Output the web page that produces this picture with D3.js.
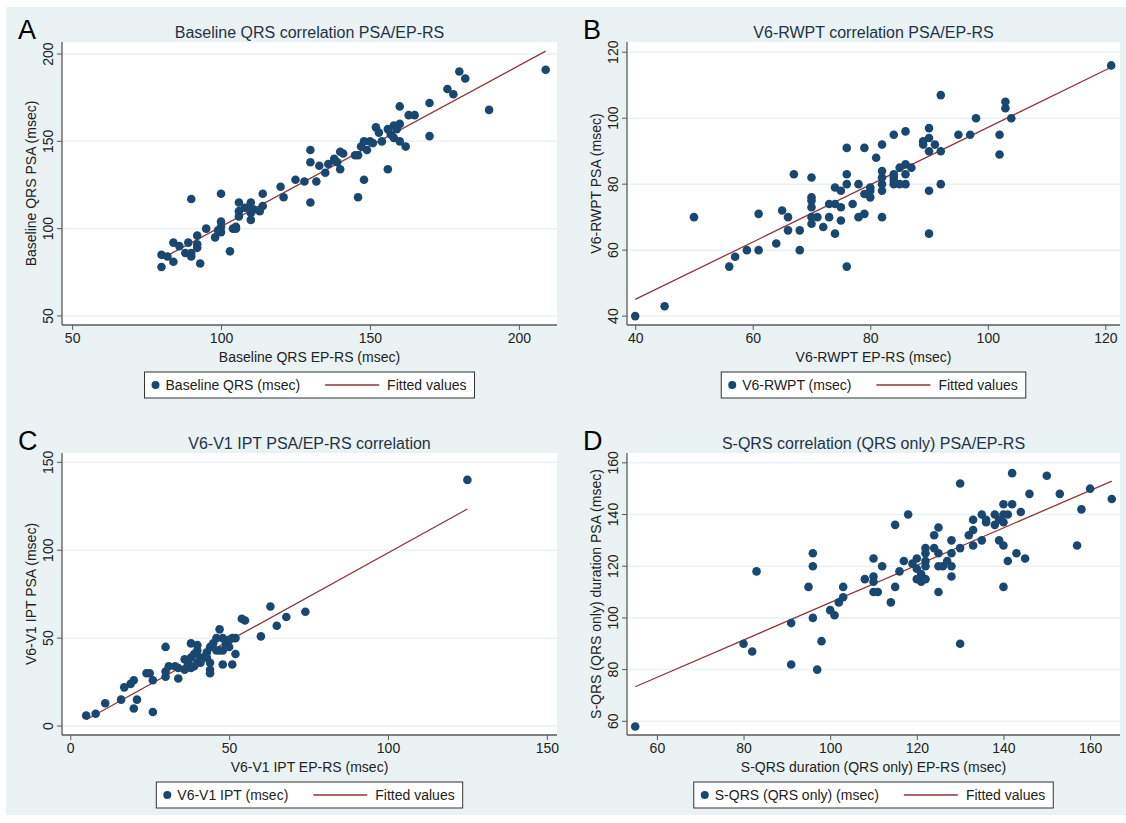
<!DOCTYPE html>
<html>
<head>
<meta charset="utf-8">
<script src="https://cdn.jsdelivr.net/npm/d3@7"></script>
<style>
  body { margin: 0; background: #fff; }
  text { font-family: "Liberation Sans", Arial, sans-serif; }
</style>
</head>
<body>
<div id="chart"></div>
<script>
const BG_COLOR = "#eaf2f3"
const DOT_COLOR = "#1a476f"
const FIT_COLOR = "#90353b"

// panel A - baseline QRS
const qrsEP = [80,80,82,84,84,86,88,89,90,90,90,92,92,92,93,95,98,100,100,100,100,103,104,105,106,106,106,108,110,110,110,111,113,114,114,120,121,125,128,130,130,130,132,133,135,136,138,139,140,140,141,145,146,146,147,148,148,149,150,152,153,154,156,156,158,158,160,160,160,162,163,165,170,170,176,178,180,182,190,209,157,159,151,138,109,105,99]
const qrsPSA = [85,78,84,92,81,90,86,92,117,86,84,96,91,89,80,100,95,120,104,101,98,87,100,100,115,110,107,112,115,109,105,111,110,120,113,124,118,128,127,145,138,115,127,136,132,137,139,138,144,134,143,142,142,118,147,150,128,145,150,158,155,150,157,134,159,152,160,170,150,147,165,165,172,153,180,177,190,186,168,191,154,157,149,140,112,101,99]
const qrsXTicks = [50, 100, 150, 200]
const qrsYTicks = [50, 100, 150, 200]

// panel B - V6-RWPT
const rwptEP = [40,45,50,56,57,59,61,61,64,65,66,66,67,68,68,70,70,70,70,70,70,71,72,73,73,74,74,74,75,75,75,76,76,76,76,77,78,78,79,79,79,80,80,80,81,82,82,82,82,82,82,84,84,84,84,85,85,86,86,86,86,87,89,89,90,90,90,90,90,91,92,92,92,95,97,98,102,102,103,103,104,121,84]
const rwptPSA = [40,43,70,55,58,60,60,71,62,72,70,66,83,66,60,82,76,75,73,70,68,70,67,74,70,79,74,65,78,73,69,91,83,80,55,74,80,70,91,77,71,79,76,78,88,92,84,82,80,78,70,95,83,82,80,85,80,96,86,83,80,85,93,92,97,94,90,78,65,92,107,90,80,95,95,100,95,89,105,103,100,116,81]
const rwptXTicks = [40, 60, 80, 100, 120]
const rwptYTicks = [40, 60, 80, 100, 120]

// panel C - V6-V1 IPT
const iptEP = [5,8,11,16,17,19,20,20,21,24,25,26,26,30,30,30,31,33,34,34,36,36,37,38,38,38,39,40,40,40,41,42,43,44,44,44,44,45,46,47,47,48,48,48,49,50,51,51,52,52,54,55,60,63,65,68,74,125,37,39,41,43,46,49,50]
const iptPSA = [6,7,13,15,22,24,26,10,15,30,30,26,8,45,28,31,34,34,27,33,38,32,36,47,39,33,41,46,36,43,39,39,42,45,36,32,30,47,50,55,43,50,43,35,47,45,50,35,50,41,61,60,51,68,57,62,65,140,34,34,36,39,43,45,49]
const iptXTicks = [0, 50, 100, 150]
const iptYTicks = [0, 50, 100, 150]

// panel D - S-QRS (QRS only)
const sqrsEP = [55,80,82,83,91,91,95,96,96,96,97,98,100,101,102,103,103,108,110,110,110,110,111,112,114,115,115,116,117,118,119,120,120,120,121,121,121,122,122,122,122,122,124,124,125,125,125,125,126,127,128,128,128,128,130,130,130,132,133,133,133,135,135,136,136,138,138,139,139,140,140,140,140,140,141,141,142,142,143,144,145,146,150,153,157,158,160,165]
const sqrsPSA = [58,90,87,118,98,82,112,125,120,100,80,91,103,101,106,112,108,115,123,116,114,110,110,120,106,136,112,118,122,140,121,123,119,115,116,117,114,127,125,122,120,115,132,127,135,125,120,110,120,122,130,125,120,116,152,127,90,132,138,134,128,140,130,138,137,140,136,130,138,144,140,137,128,112,140,122,156,144,125,141,123,148,155,148,128,142,150,146]
const sqrsXTicks = [60, 80, 100, 120, 140, 160]
const sqrsYTicks = [60, 80, 100, 120, 140, 160]

const panels = [
    { letter: "A", title: "Baseline QRS correlation PSA/EP-RS", xs: qrsEP, ys: qrsPSA, xTicks: qrsXTicks, yTicks: qrsYTicks,
      xDom: [46.6, 212.8], yDom: [44.8, 206.9], xLabel: "Baseline QRS EP-RS (msec)", yLabel: "Baseline QRS PSA (msec)",
      legend: "Baseline QRS (msec)", left: 62, right: 557, top: 42, bottom: 325 },
    { letter: "B", title: "V6-RWPT correlation PSA/EP-RS", xs: rwptEP, ys: rwptPSA, xTicks: rwptXTicks, yTicks: rwptYTicks,
      xDom: [38.6, 122.5], yDom: [37.3, 123.1], xLabel: "V6-RWPT EP-RS (msec)", yLabel: "V6-RWPT PSA (msec)",
      legend: "V6-RWPT (msec)", left: 627, right: 1120, top: 42, bottom: 325 },
    { letter: "C", title: "V6-V1 IPT PSA/EP-RS correlation", xs: iptEP, ys: iptPSA, xTicks: iptXTicks, yTicks: iptYTicks,
      xDom: [-2.6, 153.2], yDom: [-5.1, 155.3], xLabel: "V6-V1 IPT EP-RS (msec)", yLabel: "V6-V1 IPT PSA (msec)",
      legend: "V6-V1 IPT (msec)", left: 62, right: 557, top: 453, bottom: 735 },
    { letter: "D", title: "S-QRS correlation (QRS only) PSA/EP-RS", xs: sqrsEP, ys: sqrsPSA, xTicks: sqrsXTicks, yTicks: sqrsYTicks,
      xDom: [53.1, 166.9], yDom: [54.7, 163.8], xLabel: "S-QRS duration (QRS only) EP-RS (msec)", yLabel: "S-QRS (QRS only) duration PSA (msec)",
      legend: "S-QRS (QRS only) (msec)", left: 627, right: 1120, top: 453, bottom: 735 }
]

let width = 1126, height = 823
let svg = d3.select("#chart").append("svg").attr("width", width).attr("height", height)

svg.append("rect").attr("x", 0).attr("y", 0).attr("width", width).attr("height", height).attr("fill", "#fff")
svg.append("rect").attr("x", 6).attr("y", 7).attr("width", width - 6).attr("height", 808).attr("fill", BG_COLOR)

// least squares fit
function fitLine(xs, ys) {
    let mx = d3.mean(xs), my = d3.mean(ys)
    let sxy = 0, sxx = 0
    for (let i = 0; i < xs.length; i++) {
        sxy += (xs[i] - mx) * (ys[i] - my)
        sxx += (xs[i] - mx) * (xs[i] - mx)
    }
    let b = sxy / sxx
    return { a: my - b * mx, b: b }
}

panels.forEach(function (p) {
    let x = d3.scaleLinear().domain(p.xDom).range([p.left, p.right])
    let y = d3.scaleLinear().domain(p.yDom).range([p.bottom, p.top])
    let g = svg.append("g")
    let cx = (p.left + p.right) / 2

    g.append("rect").attr("x", p.left).attr("y", p.top).attr("width", p.right - p.left).attr("height", p.bottom - p.top).attr("fill", "#fff")

    // grid
    g.selectAll(".grid").data(p.yTicks).join("line")
        .attr("x1", p.left).attr("x2", p.right)
        .attr("y1", d => y(d)).attr("y2", d => y(d))
        .attr("stroke", BG_COLOR).attr("stroke-width", 1.5)

    // axes
    let xAxis = d3.axisBottom(x).tickValues(p.xTicks).tickSize(5).tickPadding(3)
    let yAxis = d3.axisLeft(y).tickValues(p.yTicks).tickSize(5).tickPadding(3)
    let gx = g.append("g").attr("transform", "translate(0," + p.bottom + ")").call(xAxis)
    let gy = g.append("g").attr("transform", "translate(" + p.left + ",0)").call(yAxis)
    gx.select(".domain").attr("d", "M" + p.left + ",0H" + p.right)
    gy.select(".domain").attr("d", "M0," + p.top + "V" + p.bottom)
    svg.selectAll(".domain").attr("stroke", "#5a5a5a").attr("stroke-width", 1.3)
    svg.selectAll(".tick line").attr("stroke", "#5a5a5a")
    gx.selectAll(".tick text").attr("font-size", 14).attr("fill", "#222").attr("font-family", "Liberation Sans, Arial, sans-serif")
    gy.selectAll(".tick text").attr("font-size", 14).attr("fill", "#222").attr("font-family", "Liberation Sans, Arial, sans-serif")
        .attr("text-anchor", "middle").attr("dy", null).attr("x", null)
        .attr("transform", d => "translate(-9," + y(d) + ") rotate(-90)")
    gy.selectAll(".tick").attr("transform", null)
    gy.selectAll(".tick line").attr("transform", d => "translate(0," + y(d) + ")")

    // fit line
    let f = fitLine(p.xs, p.ys)
    let x0 = d3.min(p.xs), x1 = d3.max(p.xs)
    g.append("line")
        .attr("x1", x(x0)).attr("y1", y(f.a + f.b * x0))
        .attr("x2", x(x1)).attr("y2", y(f.a + f.b * x1))
        .attr("stroke", FIT_COLOR).attr("stroke-width", 1.3)

    // dots
    g.selectAll("circle").data(p.xs).join("circle")
        .attr("cx", d => x(d)).attr("cy", (d, i) => y(p.ys[i]))
        .attr("r", 4.3).attr("fill", DOT_COLOR)

    // titles
    g.append("text").text(p.title).attr("x", cx).attr("y", p.top - 4)
        .attr("text-anchor", "middle").attr("font-size", 16).attr("fill", "#1f3347")
    g.append("text").text(p.letter).attr("x", p.left - 44).attr("y", p.top - 3)
        .attr("font-size", 27).attr("fill", "#000")
    g.append("text").text(p.xLabel).attr("x", cx).attr("y", p.bottom + 37)
        .attr("text-anchor", "middle").attr("font-size", 14).attr("fill", "#222")
    g.append("text").text(p.yLabel)
        .attr("transform", "translate(" + (p.left - 26) + "," + ((p.top + p.bottom) / 2) + ") rotate(-90)")
        .attr("text-anchor", "middle").attr("font-size", 14).attr("fill", "#222")

    // legend
    let lg = g.append("g")
    let box = lg.append("rect").attr("height", 26).attr("y", p.bottom + 47)
        .attr("fill", "#fff").attr("stroke", "#333").attr("stroke-width", 1)
    let ly = p.bottom + 60
    let t1 = lg.append("text").text(p.legend).attr("y", ly + 5).attr("font-size", 14).attr("fill", "#222")
    let t2 = lg.append("text").text("Fitted values").attr("y", ly + 5).attr("font-size", 14).attr("fill", "#222")
    let w1 = t1.node().getComputedTextLength()
    let w2 = t2.node().getComputedTextLength()
    let total = 21 + w1 + 25 + 54 + 8 + w2 + 8
    let bx = cx - total / 2
    box.attr("x", bx).attr("width", total)
    lg.append("circle").attr("cx", bx + 11).attr("cy", ly).attr("r", 4).attr("fill", DOT_COLOR)
    t1.attr("x", bx + 21)
    lg.append("line").attr("x1", bx + 21 + w1 + 25).attr("x2", bx + 21 + w1 + 79)
        .attr("y1", ly).attr("y2", ly).attr("stroke", FIT_COLOR).attr("stroke-width", 1.3)
    t2.attr("x", bx + 21 + w1 + 87)
})
</script>
</body>
</html>
